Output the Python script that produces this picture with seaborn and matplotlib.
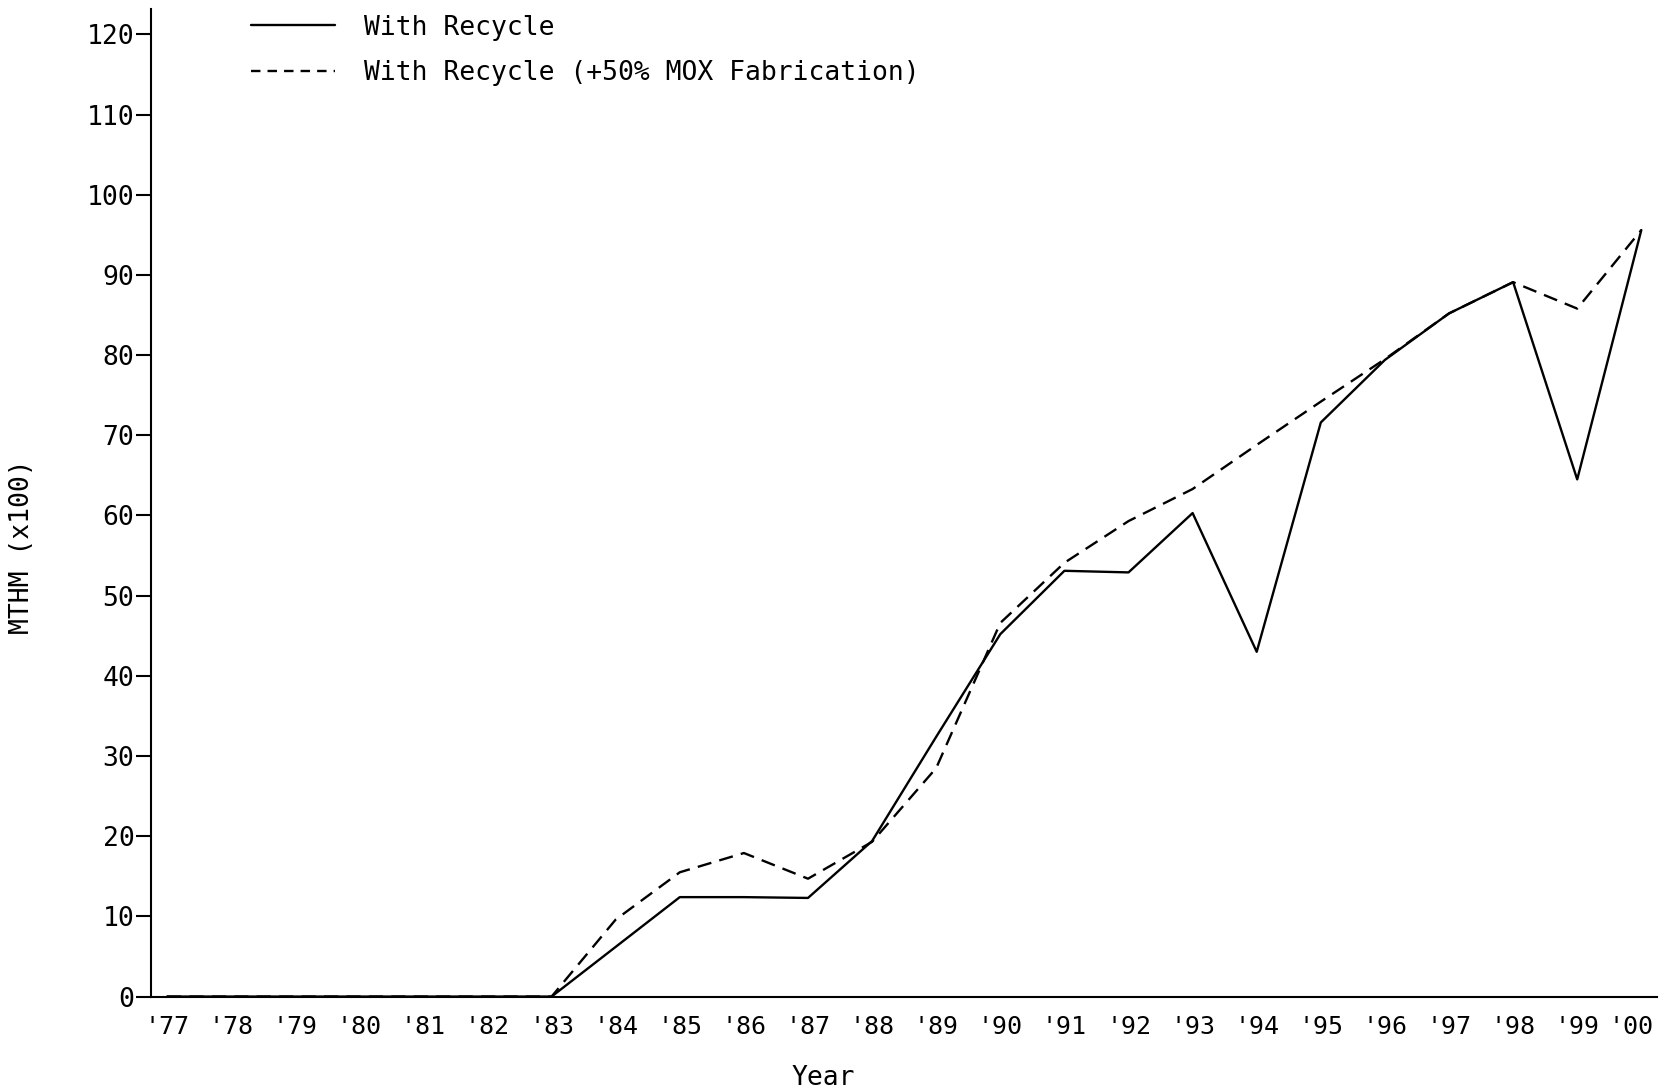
import matplotlib
matplotlib.use("Agg")
import matplotlib.pyplot as plt
import matplotlib.transforms as mtransforms
import seaborn as sns
import pandas as pd
from matplotlib.lines import Line2D

years = list(range(77, 101))
year_labels = ["'77", "'78", "'79", "'80", "'81", "'82", "'83", "'84", "'85", "'86", "'87", "'88",
               "'89", "'90", "'91", "'92", "'93", "'94", "'95", "'96", "'97", "'98", "'99", "'00"]
with_recycle = [0, 0, 0, 0, 0, 0, 0, 6.2, 12.4, 12.4, 12.3, 19.4,
                32.4, 45.2, 53.1, 52.9, 60.3, 43.0, 71.6, 79.4, 85.2, 89.1, 64.5, 95.6]
with_recycle_mox = [0, 0, 0, 0, 0, 0, 0, 9.6, 15.5, 17.9, 14.7, 19.3,
                    28.5, 46.6, 54.1, 59.3, 63.3, 68.8, 74.2, 79.5, 85.2, 89.1, 85.8, 95.6]
series_names = ["With Recycle", "With Recycle (+50% MOX Fabrication)"]
y_ticks = list(range(0, 121, 10))

df = pd.DataFrame({
    "year": years * 2,
    "value": with_recycle + with_recycle_mox,
    "series": [series_names[0]] * len(years) + [series_names[1]] * len(years),
})

sns.set_theme(style="white")
plt.rcParams['font.family'] = ['DejaVu Sans Mono', 'DejaVu Sans']

fig = plt.figure(figsize=(16.59, 10.92), dpi=100)
ax = fig.add_axes([0.091, 0.0874, 0.908, 0.9046])

lw = 1.7
sns.lineplot(data=df, x="year", y="value", style="series",
             dashes={series_names[0]: "", series_names[1]: (6, 3.5)},
             color="black", linewidth=lw, ax=ax, legend=False)

ax.set_xlim(76.75, 100.25)
ax.set_ylim(0, 123.2)
ax.set_xticks(years)
ax.set_xticklabels(year_labels)
ax.set_yticks(y_ticks)
ax.set_yticklabels([str(v) for v in y_ticks])

for s in ["top", "right"]:
    ax.spines[s].set_visible(False)
for s in ["left", "bottom"]:
    ax.spines[s].set_color("black")
    ax.spines[s].set_linewidth(1.5)

ax.tick_params(axis="y", which="both", left=True, length=11, width=1.5, color="black",
               direction="out", pad=1, labelsize=19, labelcolor="black")
ax.tick_params(axis="x", which="both", bottom=False, length=0, pad=13,
               labelsize=18, labelcolor="black")

# nudge the last year label inward so it stays inside the figure, as in the original
last = ax.get_xticklabels()[-1]
last.set_transform(last.get_transform() +
                   mtransforms.ScaledTranslation(-0.10, 0, fig.dpi_scale_trans))

ax.set_xlabel("Year", fontsize=19, color="black")
ax.set_ylabel("MTHM (x100)", fontsize=19, color="black")
ax.xaxis.label.set_va("center")
ax.xaxis.set_label_coords(0.446, -0.082)
ax.yaxis.label.set_va("center")
ax.yaxis.set_label_coords(-0.0853, 0.455)

handles = [Line2D([], [], color="black", lw=lw),
           Line2D([], [], color="black", lw=lw, dashes=(4, 3))]
leg = ax.legend(handles, series_names, loc="upper left", bbox_to_anchor=(0.0664, 0.994),
                frameon=False, fontsize=19, handlelength=3.2, handletextpad=1.1,
                labelspacing=0.75, borderpad=0, borderaxespad=0)
for t in leg.get_texts():
    t.set_color("black")

fig.savefig("out.png", dpi=100, facecolor="white")
